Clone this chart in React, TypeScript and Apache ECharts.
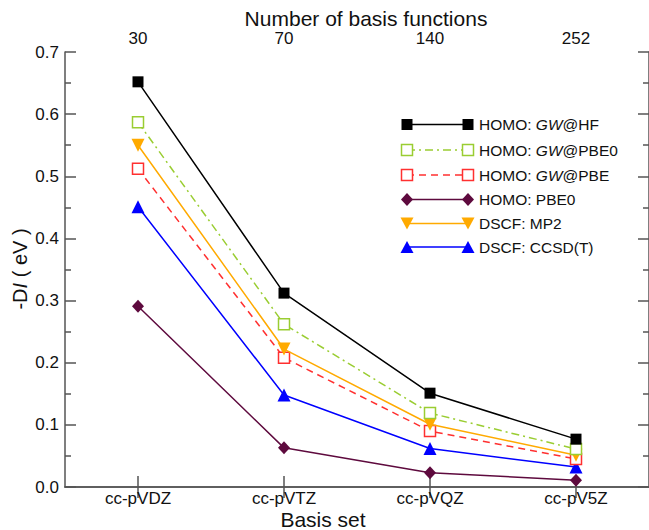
import React, { useEffect, useRef } from "react";
import * as echarts from "echarts";

const basisSets = ["cc-pVDZ", "cc-pVTZ", "cc-pVQZ", "cc-pV5Z"];
const basisFunctions = ["30", "70", "140", "252"];
const gwHF = [0.652, 0.312, 0.151, 0.077];
const gwPBE0 = [0.587, 0.262, 0.119, 0.061];
const gwPBE = [0.512, 0.208, 0.09, 0.045];
const pbe0 = [0.291, 0.063, 0.023, 0.011];
const mp2 = [0.55, 0.222, 0.101, 0.051];
const ccsdt = [0.451, 0.148, 0.062, 0.032];

const FONT = "Liberation Sans, Arial, Helvetica, sans-serif";
const AX = "#555";
const TXT = "#111";

const C = {
  black: "#000000",
  green: "#9acd32",
  red: "#ff3030",
  purple: "#5e0a3e",
  orange: "#ffaa00",
  blue: "#0000ff",
};

let measureCtx: CanvasRenderingContext2D | null = null;
function measure(text: string, size: number, italic: boolean): number {
  if (!measureCtx) measureCtx = document.createElement("canvas").getContext("2d");
  if (!measureCtx) return text.length * size * 0.55;
  measureCtx.font = `${italic ? "italic " : ""}${size}px ${FONT}`;
  return measureCtx.measureText(text).width;
}

// pieces: [text, italic]
function textPieces(
  pieces: [string, boolean][],
  x: number,
  y: number,
  size: number,
  vertical: boolean
): any[] {
  const out: any[] = [];
  let off = 0;
  pieces.forEach(([t, it]) => {
    out.push({
      type: "text",
      x: vertical ? x : x + off,
      y: vertical ? y - off : y,
      rotation: vertical ? Math.PI / 2 : 0,
      style: {
        text: t,
        fill: TXT,
        fontFamily: FONT,
        fontSize: size,
        fontStyle: it ? "italic" : "normal",
        align: "left",
        verticalAlign: "middle",
      },
      z: 11,
    });
    off += measure(t, size, it);
  });
  return out;
}

export default function App() {
  const ref = useRef<HTMLDivElement>(null);
  useEffect(() => {
    if (!ref.current) return;
    const chart = echarts.init(ref.current, undefined, { renderer: "svg" });

    const tick = { show: true, inside: true, length: 11, lineStyle: { color: AX, width: 1.5 } };
    const minor = { show: true, splitNumber: 2, length: 6, lineStyle: { color: AX, width: 1.5 } };
    const axisLine = { show: true, lineStyle: { color: AX, width: 1.5 } };

    const legendRows: { label: [string, boolean][]; color: string; dash: any; sym: string; fill: boolean }[] = [
      { label: [["HOMO: ", false], ["GW", true], ["@HF", false]], color: C.black, dash: "solid", sym: "sq", fill: true },
      { label: [["HOMO: ", false], ["GW", true], ["@PBE0", false]], color: C.green, dash: [8, 4, 2, 4], sym: "sq", fill: false },
      { label: [["HOMO: ", false], ["GW", true], ["@PBE", false]], color: C.red, dash: [7, 5], sym: "sq", fill: false },
      { label: [["HOMO: PBE0", false]], color: C.purple, dash: "solid", sym: "dia", fill: true },
      { label: [["DSCF: MP2", false]], color: C.orange, dash: "solid", sym: "tdown", fill: true },
      { label: [["DSCF: CCSD(T)", false]], color: C.blue, dash: "solid", sym: "tup", fill: true },
    ];
    const rowY = [124.5, 150, 175, 199.5, 223.5, 247];
    const x1 = 407, x2 = 468;
    const graphics: any[] = [];
    legendRows.forEach((r, i) => {
      const y = rowY[i];
      graphics.push({
        type: "line",
        shape: { x1, y1: y, x2, y2: y },
        style: { stroke: r.color, lineWidth: 1.5, lineDash: r.dash },
        z: 10,
      });
      [x1, x2].forEach((x) => {
        let el: any;
        if (r.sym === "sq") {
          el = {
            type: "rect",
            shape: { x: x - 5.5, y: y - 5.5, width: 11, height: 11 },
            style: r.fill
              ? { fill: r.color }
              : { fill: "#fff", stroke: r.color, lineWidth: 1.5 },
          };
        } else if (r.sym === "dia") {
          el = {
            type: "polygon",
            shape: { points: [[x, y - 6.5], [x + 6, y], [x, y + 6.5], [x - 6, y]] },
            style: { fill: r.color },
          };
        } else if (r.sym === "tdown") {
          el = {
            type: "polygon",
            shape: { points: [[x - 6.5, y - 6], [x + 6.5, y - 6], [x, y + 6]] },
            style: { fill: r.color },
          };
        } else {
          el = {
            type: "polygon",
            shape: { points: [[x - 6.5, y + 6], [x + 6.5, y + 6], [x, y - 6]] },
            style: { fill: r.color },
          };
        }
        el.z = 11;
        graphics.push(el);
      });
      graphics.push(...textPieces(r.label, 479, y, 15.5, false));
    });

    // axis titles
    graphics.push({
      type: "text",
      x: 366,
      y: 18,
      style: { text: "Number of basis functions", fill: TXT, fontFamily: FONT, fontSize: 21, align: "center", verticalAlign: "middle" },
    });
    graphics.push({
      type: "text",
      x: 323,
      y: 519,
      style: { text: "Basis set", fill: TXT, fontFamily: FONT, fontSize: 21, align: "center", verticalAlign: "middle" },
    });
    const yTitle: [string, boolean][] = [["-D", false], ["I", true], [" ( eV )", false]];
    const yTitleLen = yTitle.reduce((s, [t, it]) => s + measure(t, 20, it), 0);
    graphics.push(...textPieces(yTitle, 20, 269 + yTitleLen / 2, 20, true));

    const mk = (name: string, data: number[], color: string, opts: any) => ({
      name,
      type: "line",
      xAxisIndex: 0,
      yAxisIndex: 0,
      data,
      lineStyle: { color, width: 1.5, type: opts.dash || "solid" },
      symbol: opts.symbol,
      symbolSize: opts.size,
      symbolRotate: opts.rotate || 0,
      showSymbol: true,
      itemStyle: opts.hollow
        ? { color: "#fff", borderColor: color, borderWidth: 1.5 }
        : { color, borderWidth: 0 },
      z: opts.z || 2,
    });

    chart.setOption({
      animation: false,
      textStyle: { fontFamily: FONT },
      grid: { left: 65, top: 52, width: 586, height: 435, containLabel: false },
      graphic: graphics,
      xAxis: [
        {
          type: "category",
          data: basisSets,
          position: "bottom",
          boundaryGap: true,
          axisLine,
          axisTick: { ...tick, alignWithLabel: true },
          axisLabel: { color: TXT, fontSize: 17, margin: 3, fontFamily: FONT },
          splitLine: { show: false },
        },
        {
          type: "category",
          data: basisFunctions,
          position: "top",
          boundaryGap: true,
          axisLine,
          axisTick: { ...tick, alignWithLabel: true },
          axisLabel: { color: TXT, fontSize: 17, margin: 5, fontFamily: FONT },
          splitLine: { show: false },
        },
      ],
      yAxis: [
        {
          type: "value",
          min: 0,
          max: 0.7,
          interval: 0.1,
          position: "left",
          axisLine,
          axisTick: tick,
          minorTick: minor,
          splitLine: { show: false },
          axisLabel: {
            color: TXT,
            fontSize: 17,
            margin: 6,
            fontFamily: FONT,
            formatter: (v: number) => v.toFixed(1),
          },
        },
        {
          type: "value",
          min: 0,
          max: 0.7,
          interval: 0.1,
          position: "right",
          axisLine,
          axisTick: tick,
          minorTick: minor,
          splitLine: { show: false },
          axisLabel: { show: false },
        },
      ],
      series: [
        mk("HOMO: GW@HF", gwHF, C.black, { symbol: "rect", size: 11, z: 6 }),
        mk("HOMO: GW@PBE0", gwPBE0, C.green, { symbol: "rect", size: 11, hollow: true, dash: [8, 4, 2, 4], z: 5 }),
        mk("HOMO: GW@PBE", gwPBE, C.red, { symbol: "rect", size: 11, hollow: true, dash: [7, 5], z: 3 }),
        mk("HOMO: PBE0", pbe0, C.purple, { symbol: "diamond", size: [12, 13], z: 2 }),
        mk("DSCF: MP2", mp2, C.orange, { symbol: "triangle", size: 13, rotate: 180, z: 4 }),
        mk("DSCF: CCSD(T)", ccsdt, C.blue, { symbol: "triangle", size: 13, z: 2 }),
      ],
    });
    return () => chart.dispose();
  }, []);
  return (
    <div
      ref={ref}
      style={{ position: "fixed", left: 0, top: 0, width: 649, height: 530, background: "#fff" }}
    />
  );
}
